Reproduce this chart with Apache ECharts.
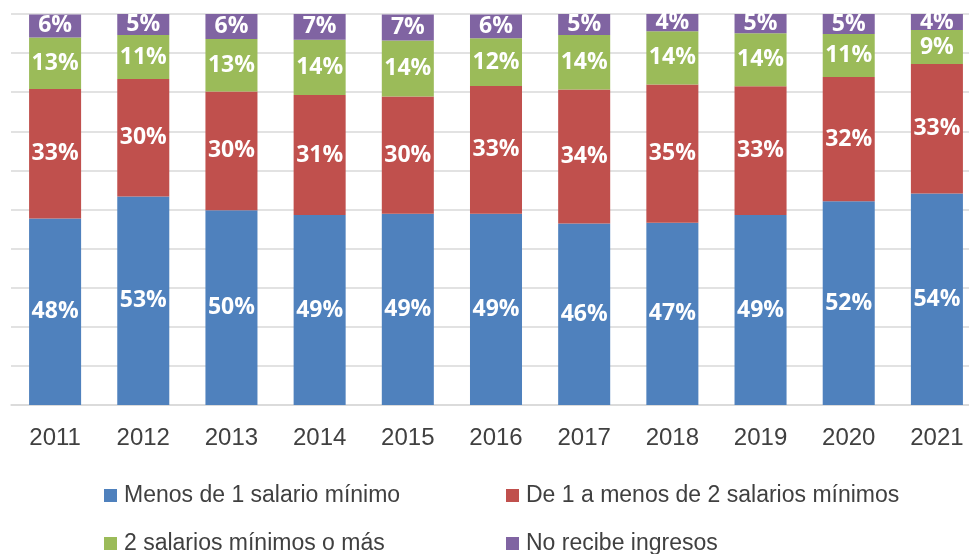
<!DOCTYPE html>
<html>
<head>
<meta charset="utf-8">
<script src="https://cdn.jsdelivr.net/npm/echarts@6/dist/echarts.min.js"></script>
<style>
  html, body { margin: 0; padding: 0; background: #fff; }
  #chart { width: 969px; height: 554px; }
</style>
</head>
<body>
<div id="chart"></div>
<script>
// años
const years = ["2011", "2012", "2013", "2014", "2015", "2016", "2017", "2018", "2019", "2020", "2021"];
// porcentajes
const menos1 = [47.7, 53.3, 49.8, 48.6, 48.9, 48.9, 46.4, 46.6, 48.6, 52.1, 54.1];
const de1a2 = [33.1, 30.1, 30.4, 30.7, 30.0, 32.7, 34.3, 35.4, 32.9, 31.8, 33.1];
const dosOMas = [13.2, 11.2, 13.4, 14.1, 14.3, 12.2, 13.9, 13.6, 13.6, 11.0, 8.7];
const noRecibe = [5.9, 5.4, 6.4, 6.6, 6.7, 6.1, 5.4, 4.4, 4.9, 5.1, 4.1];

const names = [
  "Menos de 1 salario mínimo",
  "De 1 a menos de 2 salarios mínimos",
  "2 salarios mínimos o más",
  "No recibe ingresos"
];
const colors = ["#4f81bd", "#c0504d", "#9bbb59", "#8064a2"];

let chart = echarts.init(document.getElementById("chart"));

let label = {
  show: true,
  position: "inside",
  color: "#fff",
  fontFamily: "Open Sans",
  fontWeight: "bold",
  fontSize: 23,
  formatter: p => Math.round(p.value) + "%"
};

let series = [menos1, de1a2, dosOMas, noRecibe].map((d, i) => ({
  name: names[i],
  type: "bar",
  stack: "total",
  barWidth: "59%",
  itemStyle: { color: colors[i] },
  label,
  data: d
}));

// una leyenda por elemento para alinear las columnas
let legendPos = [
  [104, 484],
  [506, 484],
  [104, 532],
  [506, 532]
];
let legend = names.map((n, i) => ({
  left: legendPos[i][0],
  top: legendPos[i][1],
  padding: 0,
  itemWidth: 13,
  itemHeight: 13,
  icon: "rect",
  textStyle: {
    color: "#404040",
    fontFamily: "Liberation Sans",
    fontSize: 23,
    padding: [0, 0, 0, 2]
  },
  data: [n]
}));

let option = {
  animation: false,
  // el área del gráfico sigue más allá del borde derecho
  grid: { left: 11, width: 970, top: 14, bottom: 149, outerBoundsMode: "none" },
  legend,
  xAxis: {
    type: "category",
    data: years,
    axisTick: { show: false },
    axisLine: { lineStyle: { color: "#d9d9d9", width: 1.5 } },
    axisLabel: {
      color: "#404040",
      fontFamily: "Liberation Sans",
      fontSize: 24,
      margin: 21
    }
  },
  yAxis: {
    type: "value",
    min: 0,
    max: 100,
    interval: 10,
    axisLabel: { show: false },
    axisLine: { show: false },
    axisTick: { show: false },
    splitLine: { lineStyle: { color: "#d9d9d9", width: 1.5 } }
  },
  series
};

chart.setOption(option);
</script>
</body>
</html>
